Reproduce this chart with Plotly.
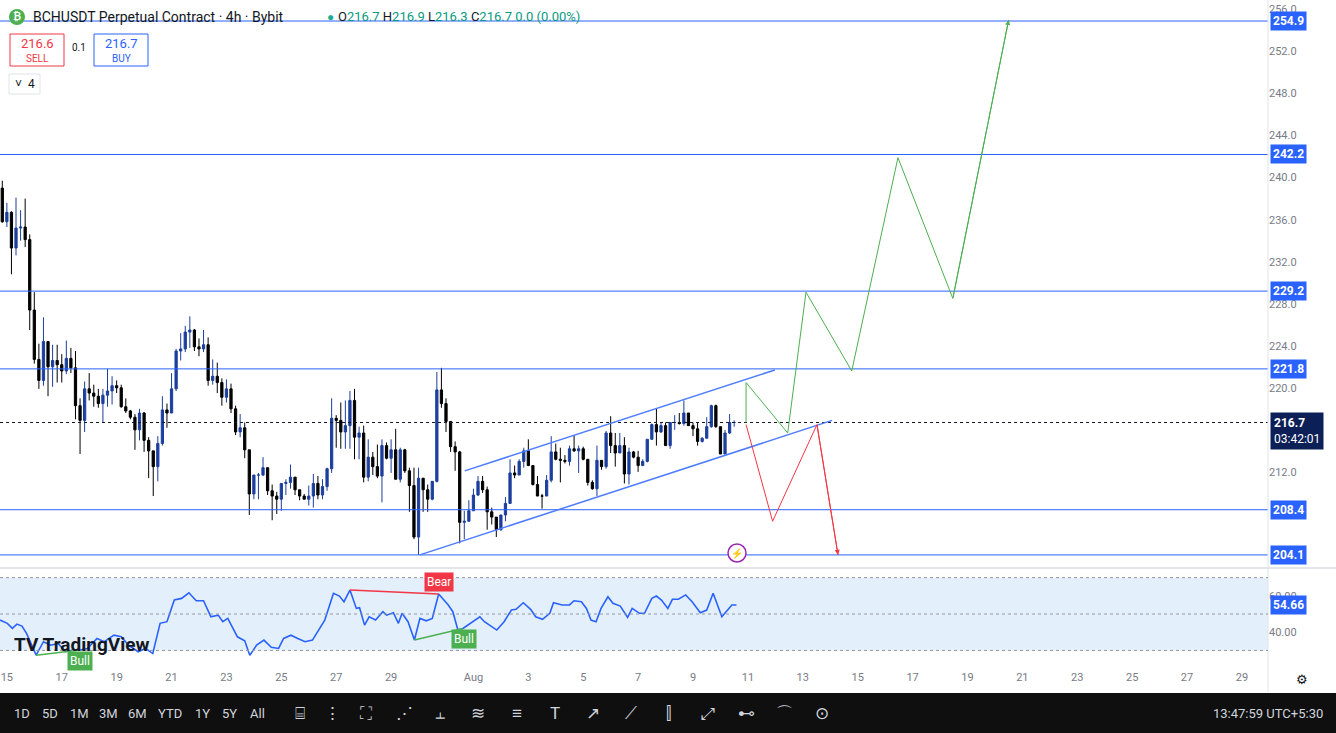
import plotly.graph_objects as go

# 4h candles, Jul 14 20:00 -> Aug 10 (bar index 0..160)
closes = [235.8, 236.7, 233.3, 235.2, 235.3, 234.1, 227.4, 222.7, 220.7, 224.4,
          222.0, 222.6, 222.2, 221.6, 222.8, 221.9, 218.3, 216.9, 219.9, 219.5,
          219.2, 218.5, 219.3, 219.7, 220.2, 220.0, 218.2, 217.8, 217.2, 216.0,
          217.6, 215.0, 214.0, 212.5, 214.7, 217.9, 217.6, 219.9, 223.5, 223.7,
          225.3, 225.5, 223.9, 223.7, 224.1, 220.7, 221.1, 220.5, 219.1, 219.9,
          218.0, 215.8, 216.2, 214.1, 209.9, 211.7, 211.7, 212.4, 210.2, 209.7,
          209.4, 210.9, 211.0, 211.5, 210.3, 209.7, 209.4, 209.7, 210.9, 209.8,
          210.6, 212.3, 217.1, 216.9, 215.8, 216.4, 218.8, 215.3, 215.7, 211.5,
          213.4, 212.5, 211.6, 214.5, 213.3, 214.1, 211.3, 214.1, 212.1, 210.7,
          205.8, 211.4, 210.3, 209.4, 211.1, 219.8, 218.5, 216.8, 214.4, 213.9,
          207.2, 207.3, 208.3, 209.8, 211.1, 210.3, 208.2, 207.7, 206.5, 207.9,
          209.0, 211.9, 211.7, 213.0, 214.0, 212.6, 210.8, 209.7, 209.7, 211.2,
          213.9, 213.2, 213.1, 213.0, 214.2, 214.0, 214.2, 213.2, 211.0, 210.4,
          213.1, 212.5, 215.7, 214.5, 213.8, 214.5, 211.8, 213.9, 213.4, 212.6,
          213.0, 215.1, 216.5, 215.8, 216.4, 214.5, 216.7, 216.7, 216.6, 217.6,
          216.4, 216.1, 214.9, 215.2, 216.3, 218.3, 216.3, 213.7, 215.7, 216.7,
          216.7]
highs = [239.7, 237.6, 236.8, 238.1, 236.9, 238.0, 234.6, 229.1, 224.2, 226.7,
         224.4, 224.1, 224.1, 223.2, 224.5, 223.8, 223.5, 219.0, 220.6, 221.4,
         220.3, 219.9, 219.9, 221.8, 221.1, 220.7, 220.3, 219.0, 217.9, 217.5,
         218.0, 217.7, 215.3, 214.0, 215.4, 219.2, 218.5, 221.4, 223.7, 225.2,
         225.9, 226.8, 225.6, 224.7, 225.5, 224.8, 222.7, 222.4, 220.9, 220.8,
         220.4, 218.3, 217.5, 216.7, 214.1, 211.7, 211.9, 213.4, 212.4, 210.8,
         210.1, 210.9, 211.3, 212.7, 211.5, 210.3, 209.9, 210.7, 211.8, 211.6,
         211.3, 212.4, 219.0, 217.4, 218.6, 218.8, 219.7, 219.9, 216.3, 216.4,
         215.1, 213.9, 214.6, 215.1, 214.8, 215.1, 216.1, 214.3, 214.2, 212.4,
         212.4, 212.4, 211.4, 210.8, 211.1, 221.5, 221.9, 219.0, 216.8, 214.9,
         214.0, 208.3, 209.3, 210.4, 211.6, 211.6, 210.6, 208.6, 207.6, 207.9,
         209.6, 213.2, 212.6, 213.2, 214.3, 215.1, 212.6, 211.6, 209.9, 211.7,
         215.4, 214.7, 214.3, 213.6, 214.5, 215.5, 214.5, 214.4, 213.2, 211.2,
         214.5, 213.1, 215.9, 217.3, 215.7, 215.7, 215.3, 214.3, 214.0, 214.0,
         213.2, 215.1, 216.6, 218.0, 216.7, 216.7, 216.7, 217.4, 217.6, 218.8,
         217.6, 216.7, 216.7, 215.3, 217.2, 218.4, 218.4, 216.3, 216.0, 217.5,
         216.9]
lows = [235.7, 235.3, 230.8, 232.6, 234.0, 233.4, 225.5, 222.3, 219.9, 220.2,
        219.2, 220.1, 220.5, 220.5, 221.3, 221.4, 217.0, 213.7, 215.8, 218.8,
        218.2, 218.1, 216.7, 218.2, 218.4, 219.5, 218.1, 217.6, 217.0, 214.1,
        215.0, 213.9, 211.4, 209.7, 211.1, 214.5, 216.2, 217.6, 219.7, 222.6,
        223.4, 223.8, 223.5, 223.0, 223.4, 220.2, 220.3, 219.5, 218.3, 218.6,
        217.6, 215.5, 215.3, 213.3, 207.9, 209.4, 209.4, 211.6, 209.8, 207.4,
        208.0, 208.3, 209.8, 210.4, 209.8, 209.3, 209.4, 208.8, 208.6, 209.4,
        209.4, 210.2, 211.9, 214.3, 214.2, 214.2, 214.2, 213.2, 213.2, 211.0,
        211.1, 211.7, 211.4, 209.1, 213.2, 211.9, 211.3, 211.0, 211.9, 208.2,
        205.6, 204.1, 208.2, 208.2, 209.3, 211.0, 218.1, 215.8, 213.9, 212.1,
        205.2, 205.6, 207.3, 208.3, 209.7, 210.0, 206.5, 207.0, 205.8, 206.4,
        207.3, 209.0, 211.4, 211.7, 212.4, 212.6, 210.7, 209.7, 208.5, 209.7,
        211.0, 213.1, 211.0, 212.8, 212.6, 213.9, 211.9, 213.1, 210.7, 210.3,
        209.7, 212.2, 212.3, 213.8, 212.5, 213.8, 210.9, 210.8, 213.3, 212.0,
        212.6, 212.9, 215.1, 214.5, 215.7, 214.5, 214.2, 216.0, 216.5, 216.4,
        216.4, 215.4, 214.5, 214.8, 215.2, 216.2, 216.2, 213.7, 214.2, 215.6,
        216.3]
first_open = 239.0

# RSI points (bar position, value)
rsi_bar = [-0.5, 1.1, 2.2, 3.2, 4.3, 5.3, 7.4, 9.0, 10.6, 12.2, 13.8, 15.4, 17.0, 18.6,
           20.7, 22.3, 24.4, 26.0, 27.6, 29.7, 31.3, 32.9, 34.5, 36.0, 37.6, 39.2, 40.8,
           42.4, 44.0, 45.6, 47.2, 48.2, 49.3, 51.4, 53.0, 54.1, 55.6, 57.2, 58.8, 60.4,
           61.5, 63.1, 64.6, 66.2, 67.8, 68.9, 70.5, 72.4, 73.7, 74.7, 76.0, 77.4, 78.1,
           79.2, 80.2, 81.6, 83.2, 84.0, 85.5, 86.6, 87.4, 88.7, 90.1, 91.3, 92.7, 94.0,
           95.4, 96.4, 97.5, 98.5, 99.6, 100.7, 102.8, 104.4, 105.4, 107.0, 108.1, 109.7,
           111.3, 112.3, 113.9, 115.5, 116.6, 118.1, 119.7, 120.5, 122.4, 124.0, 125.0,
           126.6, 127.7, 128.7, 129.8, 130.9, 132.4, 133.5, 135.1, 136.7, 137.7, 139.3,
           140.4, 142.0, 143.0, 144.1, 145.5, 146.5, 147.8, 149.4, 150.8, 152.6, 154.0,
           155.4, 157.3, 159.5, 160.5]
rsi_val = [46.7, 44.9, 42.1, 44.5, 43.4, 39.4, 27.4, 34.8, 32.9, 33.9, 29.3, 30.2, 30.2,
           31.1, 36.6, 34.8, 38.4, 37.5, 32.9, 29.3, 31.1, 28.3, 44.9, 45.8, 57.7, 58.6,
           61.7, 57.3, 57.3, 48.5, 49.4, 45.8, 47.6, 37.5, 35.3, 27.4, 32.9, 35.7, 31.7,
           31.1, 36.6, 38.4, 36.6, 34.8, 35.7, 40.3, 46.7, 61.4, 59.9, 56.8, 63.2, 53.1,
           53.5, 43.9, 48.5, 46.7, 51.3, 49.4, 50.7, 44.9, 50.4, 45.8, 35.7, 47.6, 46.3,
           47.6, 61.0, 58.1, 55.0, 51.3, 41.2, 42.1, 45.8, 48.5, 45.8, 43.0, 41.2, 45.8,
           52.2, 52.6, 56.2, 52.6, 48.5, 47.1, 50.4, 56.2, 55.0, 55.0, 57.3, 56.8, 53.1,
           46.7, 45.8, 53.1, 59.5, 55.9, 54.4, 48.2, 53.1, 50.4, 50.4, 58.6, 59.9, 57.7,
           53.1, 58.1, 58.1, 60.5, 56.8, 50.7, 52.2, 61.4, 48.5, 55.0, 55.0]

levels = [254.9, 242.2, 229.2, 221.8, 208.4, 204.1]
last_price = 216.7
price_ticks = [212, 220, 224, 228, 232, 236, 240, 244, 248, 252, 256]

channel_upper = ([101.1, 168.9], [212.1, 221.7])
channel_lower = ([91.3, 181.4], [204.1, 216.9])
bull_path = ([162.6, 162.6, 171.7, 175.7, 185.7, 195.8, 207.8, 220.0],
             [216.7, 220.5, 215.7, 229.1, 221.6, 241.9, 228.5, 255.0])
bear_path = ([162.6, 168.4, 178.1, 182.7], [216.5, 207.3, 216.5, 204.1])

bear_div = ([76.0, 95.4], [63.2, 61.0])
bull_div = ([90.1, 100.7], [35.7, 42.1])
bull_div2 = ([7.4, 17.0], [27.4, 30.2])

date_labels = ["15", "17", "19", "21", "23", "25", "27", "29", "Aug", "3", "5", "7",
               "9", "11", "13", "15", "17", "19", "21", "23", "25", "27", "29"]
date_days = [0, 2, 4, 6, 8, 10, 12, 14, 17, 19, 21, 23, 25, 27, 29, 31, 33, 35, 37,
             39, 41, 43, 45]

bars = list(range(len(closes)))
opens = [first_open] + closes[:-1]
tick_bars = [1 + 6 * d for d in date_days]

BLUE = "#2962ff"
W, H = 1336, 733
XR = [-0.5, 276.7]
XD = 1268 / W


def py(px):
    return 1 - px / H


def label(x, y, text, color="#131722", size=12, xanchor="center", **kw):
    # text placed in page pixels
    return dict(x=x / W, y=py(y), xref="paper", yref="paper", text=text, showarrow=False,
                xanchor=xanchor, yanchor="middle", font=dict(color=color, size=size), **kw)


fig = go.Figure()
fig.add_trace(go.Candlestick(
    x=bars, open=opens, high=highs, low=lows, close=closes,
    increasing=dict(line=dict(color="#1c3f9e", width=1), fillcolor="#1c3f9e"),
    decreasing=dict(line=dict(color="#000000", width=1), fillcolor="#000000"),
    whiskerwidth=0, showlegend=False, hoverinfo="skip"))

for lv in levels:
    fig.add_trace(go.Scatter(x=XR, y=[lv, lv], mode="lines", line=dict(color=BLUE, width=1),
                             showlegend=False, hoverinfo="skip"))
fig.add_trace(go.Scatter(x=XR, y=[last_price, last_price], mode="lines",
                         line=dict(color="#131722", width=1, dash="dot"),
                         showlegend=False, hoverinfo="skip"))
for cx, cy in (channel_upper, channel_lower):
    fig.add_trace(go.Scatter(x=cx, y=cy, mode="lines", line=dict(color="#4d7cff", width=1.5),
                             showlegend=False, hoverinfo="skip"))
fig.add_trace(go.Scatter(x=bull_path[0], y=bull_path[1], mode="lines",
                         line=dict(color="#4caf50", width=1), showlegend=False, hoverinfo="skip"))
fig.add_trace(go.Scatter(x=bear_path[0], y=bear_path[1], mode="lines",
                         line=dict(color="#f23645", width=1), showlegend=False, hoverinfo="skip"))

# RSI pane
fig.add_trace(go.Scatter(x=rsi_bar, y=rsi_val, mode="lines", line=dict(color=BLUE, width=1.6),
                         xaxis="x2", yaxis="y2", showlegend=False, hoverinfo="skip"))
for dx, dy, col in ((bear_div[0], bear_div[1], "#f23645"), (bull_div[0], bull_div[1], "#4caf50"),
                    (bull_div2[0], bull_div2[1], "#4caf50")):
    fig.add_trace(go.Scatter(x=dx, y=dy, mode="lines", line=dict(color=col, width=1.5),
                             xaxis="x2", yaxis="y2", showlegend=False, hoverinfo="skip"))

shapes = [
    dict(type="rect", xref="x2", yref="y2", x0=XR[0], x1=XR[1], y0=30, y1=70,
         fillcolor="#e3effb", line=dict(width=0), layer="below"),
    dict(type="line", xref="paper", yref="paper", x0=0, x1=1, y0=py(568), y1=py(568),
         line=dict(color="#c8cbd2", width=1)),
    dict(type="line", xref="paper", yref="paper", x0=XD, x1=XD, y0=py(692), y1=1,
         line=dict(color="#e0e3eb", width=1)),
    dict(type="rect", xref="paper", yref="paper", x0=0, x1=1, y0=0, y1=py(693),
         fillcolor="#0f0f0f", line=dict(width=0)),
    dict(type="rect", xref="paper", yref="paper", x0=10 / W, x1=64 / W, y0=py(66), y1=py(34),
         line=dict(color="#f23645", width=1), fillcolor="white"),
    dict(type="rect", xref="paper", yref="paper", x0=94 / W, x1=148 / W, y0=py(66), y1=py(34),
         line=dict(color=BLUE, width=1), fillcolor="white"),
    dict(type="rect", xref="paper", yref="paper", x0=9 / W, x1=40 / W, y0=py(94), y1=py(74),
         line=dict(color="#e0e3eb", width=1), fillcolor="white"),
    dict(type="circle", xref="paper", yref="paper", x0=728 / W, x1=746 / W, y0=py(562), y1=py(544),
         line=dict(color="#9c27b0", width=1.5), fillcolor="white"),
    dict(type="circle", xref="paper", yref="paper", x0=9 / W, x1=25 / W, y0=py(25), y1=py(9),
         line=dict(width=0), fillcolor="#4caf50"),
]
for y0 in (70, 50, 30):
    shapes.append(dict(type="line", xref="x2", yref="y2", x0=XR[0], x1=XR[1], y0=y0, y1=y0,
                       line=dict(color="#9598a1", width=1, dash="dot")))

ann = []
for lv in levels:
    ann.append(dict(x=XD + 2 / W, y=lv, xref="paper", yref="y", text=f"<b>{lv:.1f}</b>",
                    showarrow=False, xanchor="left", yanchor="middle",
                    font=dict(color="white", size=12), bgcolor=BLUE, borderpad=2))
ann.append(dict(x=XD + 2 / W, y=last_price, xref="paper", yref="y", yanchor="top",
                text=f"<b>{last_price:.1f}</b><br>03:42:01", showarrow=False, xanchor="left",
                align="left", font=dict(color="white", size=12), bgcolor="#0d1f57", borderpad=3,
                yshift=10))
ann.append(dict(x=XD + 2 / W, y=rsi_val[-1], xref="paper", yref="y2", text="<b>54.66</b>",
                showarrow=False, xanchor="left", yanchor="middle",
                font=dict(color="white", size=12), bgcolor=BLUE, borderpad=2))
ann.append(dict(x=bear_div[0][1], y=67.5, xref="x2", yref="y2", text="Bear", showarrow=False,
                yanchor="middle", font=dict(color="white", size=12), bgcolor="#f23645", borderpad=2))
ann.append(dict(x=101.0, y=36.3, xref="x2", yref="y2", text="Bull", showarrow=False,
                yanchor="middle", font=dict(color="white", size=12), bgcolor="#4caf50", borderpad=2))
ann.append(label(80, 661, "Bull", "white", 12, bgcolor="#4caf50", borderpad=2))
ann.append(dict(x=bull_path[0][-1], y=bull_path[1][-1], ax=bull_path[0][-2], ay=bull_path[1][-2],
                xref="x", yref="y", axref="x", ayref="y", text="", showarrow=True,
                arrowhead=2, arrowsize=1, arrowwidth=1, arrowcolor="#4caf50"))
ann.append(dict(x=bear_path[0][-1], y=bear_path[1][-1], ax=bear_path[0][-2], ay=bear_path[1][-2],
                xref="x", yref="y", axref="x", ayref="y", text="", showarrow=True,
                arrowhead=2, arrowsize=1, arrowwidth=1, arrowcolor="#f23645"))
ann.append(label(737, 553, "⚡", "#9c27b0", 10))

# header
ann.append(label(31, 17, "BCHUSDT Perpetual Contract · 4h · Bybit", size=14, xanchor="left"))
ann.append(label(17, 17, "<b>₿</b>", "white", 10))
ann.append(label(330, 17, "●", "#22ab94", 12))
ann.append(label(336, 17,
                 "O<span style='color:#089981'>216.7</span> H<span style='color:#089981'>216.9</span> "
                 "L<span style='color:#089981'>216.3</span> C<span style='color:#089981'>216.7</span> "
                 "<span style='color:#089981'>0.0 (0.00%)</span>", size=13, xanchor="left"))
ann.append(label(37, 43, "216.6", "#f23645", 13))
ann.append(label(37, 58, "SELL", "#f23645", 10))
ann.append(label(79, 48, "0.1", size=10))
ann.append(label(121, 43, "216.7", BLUE, 13))
ann.append(label(121, 58, "BUY", BLUE, 10))
ann.append(label(25, 84, "˅  4", size=12))
ann.append(label(12, 644, "<b>TV TradingView</b>", size=19, xanchor="left"))
ann.append(label(1302, 679, "⚙", size=13))

# bottom toolbar
tb = ["1D", "5D", "1M", "3M", "6M", "YTD", "1Y", "5Y", "All"]
tb_x = [22, 50, 79, 108, 137, 170, 202, 229, 257]
for t, x in zip(tb, tb_x):
    ann.append(label(x, 713, t, "#d1d4dc", 13))
icons = ["⌸", "⋮", "⛶", "⋰", "⫠", "≋", "≡", "T", "↗", "⟋", "⫿", "⤢", "⊷", "⌒", "⊙"]
icons_x = [300, 332, 366, 404, 440, 478, 517, 555, 593, 631, 668, 708, 746, 784, 822]
for t, x in zip(icons, icons_x):
    ann.append(label(x, 713, t, "#d1d4dc", 17))
ann.append(label(1325, 713, "13:47:59 UTC+5:30", "#d1d4dc", 13, xanchor="right"))

fig.update_layout(
    width=W, height=H, margin=dict(l=0, r=0, t=0, b=0),
    paper_bgcolor="white", plot_bgcolor="white",
    font=dict(family="Roboto, Arial, sans-serif", color="#131722", size=11),
    xaxis=dict(domain=[0, XD], range=XR, showgrid=False, zeroline=False, showticklabels=False,
               rangeslider=dict(visible=False), anchor="y"),
    yaxis=dict(domain=[py(567), 1], range=[202.95, 256.9], side="right", anchor="x",
               tickvals=price_ticks, tickformat=".1f", showgrid=False, zeroline=False,
               ticks="", tickfont=dict(color="#787b86", size=11)),
    xaxis2=dict(domain=[0, XD], range=XR, showgrid=False, zeroline=False, anchor="y2",
                tickvals=tick_bars, ticktext=date_labels, ticks="", ticklabelstandoff=12,
                tickfont=dict(color="#787b86", size=11)),
    yaxis2=dict(domain=[py(657), py(572)], range=[26.4, 73.1], side="right", anchor="x2",
                tickvals=[40, 60], tickformat=".2f", showgrid=False, zeroline=False,
                ticks="", tickfont=dict(color="#787b86", size=11)),
    shapes=shapes, annotations=ann,
)

fig.write_html("out.html", config={"displayModeBar": False},
               post_script="document.body.style.margin='0';document.body.style.overflow='hidden';")
